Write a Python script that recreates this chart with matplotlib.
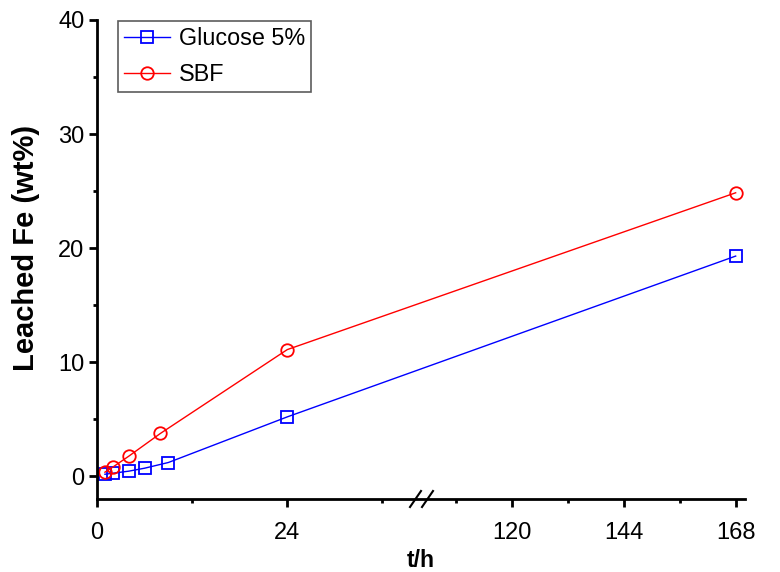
import numpy as np
import matplotlib
matplotlib.use("Agg")
import matplotlib.pyplot as plt
from matplotlib.ticker import FixedLocator, FixedFormatter

plt.rcParams['font.family'] = ['Liberation Sans', 'DejaVu Sans']

# data
t_glu = [1, 2, 4, 6, 9, 24, 168]
fe_glu = [0.17, 0.26, 0.44, 0.7, 1.2, 5.2, 19.3]
t_sbf = [1, 2, 4, 8, 24, 168]
fe_sbf = [0.35, 0.8, 1.75, 3.75, 11.1, 24.85]

major_ticks = [0, 24, 120, 144, 168]
minor_ticks = [12, 36, 108, 132, 156]

# broken x axis: 0..40.5 normal, 100..170 compressed
brk_lo = 40.5
brk_hi = 100
r = 0.589
xp = [-1000, brk_lo, brk_hi, 1000]
fp = [-1000, brk_lo, brk_lo + 0.01, brk_lo + 0.01 + (1000 - brk_hi) * r]

def fwd(x):
    return np.interp(x, xp, fp)

def inv(y):
    return np.interp(y, fp, xp)

W, H = 780, 572
fig = plt.figure(figsize=(W/100, H/100), dpi=100)
ax = fig.add_axes([97/W, 1-499/H, (745-97)/W, (499-20)/H])
ax.set_xscale('function', functions=(fwd, inv))

ax.plot(t_glu, fe_glu, '-s', color='#0000ff', lw=1, ms=8, mfc='none', mew=1.3, label='Glucose 5%')
ax.plot(t_sbf, fe_sbf, '-o', color='#ff0000', lw=1, ms=9, mfc='none', mew=1.3, label='SBF')

ax.set_xlim(0, 170)
ax.set_ylim(-2, 40)
ax.xaxis.set_major_locator(FixedLocator(major_ticks))
ax.xaxis.set_major_formatter(FixedFormatter([str(v) for v in major_ticks]))
ax.xaxis.set_minor_locator(FixedLocator(minor_ticks))
ax.set_yticks([0, 10, 20, 30, 40])
ax.set_yticks([5, 15, 25, 35], minor=True)

for s in ['top', 'right']:
    ax.spines[s].set_visible(False)
for s in ['left', 'bottom']:
    ax.spines[s].set_linewidth(2)
ax.tick_params(which='major', direction='out', length=6, width=2, labelsize=17)
ax.tick_params(which='minor', direction='out', length=3, width=2)
ax.tick_params(axis='x', which='major', pad=10.5)
ax.tick_params(axis='y', which='major', pad=3)

ax.set_xlabel('t/h', fontsize=16.5, fontweight='bold', labelpad=3.5)
ax.set_ylabel('Leached Fe (wt%)', fontsize=21, fontweight='bold')
ax.yaxis.set_label_coords(-0.088, 0.524)

# break marks "//" on the x axis
for x0 in [410, 422]:
    fig.add_artist(plt.Line2D([x0/W, (x0+11)/W], [1-507/H, 1-491/H],
                              transform=fig.transFigure, color='black', lw=1.5))

leg = ax.legend(loc='upper left', bbox_to_anchor=(118/W, 1-21/H), bbox_transform=fig.transFigure,
                borderaxespad=0, fontsize=16.8, frameon=True, fancybox=False, handlelength=2,
                labelspacing=0.55, borderpad=0.25, handletextpad=0.35)
leg.get_frame().set_edgecolor('#333333')
leg.get_frame().set_linewidth(1.2)

fig.savefig('out.png', dpi=100)
